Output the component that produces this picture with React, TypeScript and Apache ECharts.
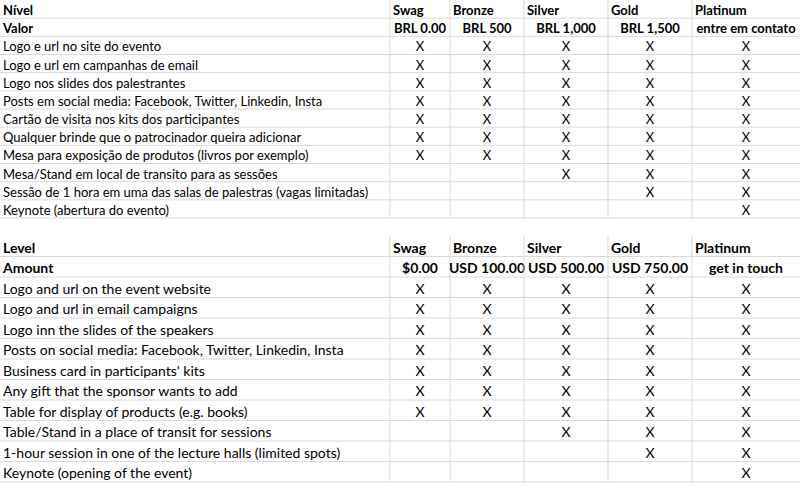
import { useEffect, useRef } from 'react'
import * as echarts from 'echarts'

const tiers = ['Swag', 'Bronze', 'Silver', 'Gold', 'Platinum']
const pricesPt = ['BRL 0.00', 'BRL 500', 'BRL 1,000', 'BRL 1,500', 'entre em contato']
const pricesEn = ['$0.00', 'USD 100.00', 'USD 500.00', 'USD 750.00', 'get in touch']

const benefitsPt = [
  'Logo e url no site do evento',
  'Logo e url em campanhas de email',
  'Logo nos slides dos palestrantes',
  'Posts em social media: Facebook, Twitter, Linkedin, Insta',
  'Cartão de visita nos kits dos participantes',
  'Qualquer brinde que o patrocinador queira adicionar',
  'Mesa para exposição de produtos (livros por exemplo)',
  'Mesa/Stand em local de transito para as sessões',
  'Sessão de 1 hora em uma das salas de palestras (vagas limitadas)',
  'Keynote (abertura do evento)',
]
const benefitsEn = [
  'Logo and url on the event website',
  'Logo and url in email campaigns',
  'Logo inn the slides of the speakers',
  'Posts on social media: Facebook, Twitter, Linkedin, Insta',
  'Business card in participants\' kits',
  'Any gift that the sponsor wants to add',
  'Table for display of products (e.g. books)',
  'Table/Stand in a place of transit for sessions',
  '1-hour session in one of the lecture halls (limited spots)',
  'Keynote (opening of the event)',
]
// lowest tier index that includes each benefit
const fromTier = [0, 0, 0, 0, 0, 0, 0, 2, 3, 4]

const colEdges = [0, 390, 450, 524, 608, 692, 800]

function buildCells(head: string, amount: string, prices: string[], benefits: string[]) {
  const cells: any[] = []
  for (let r = 0; r < 12; r++) {
    for (let c = 0; c < 6; c++) {
      let text = ''
      let bold = false
      let align = 'center'
      if (r === 0) {
        bold = true
        align = 'left'
        text = c === 0 ? head : tiers[c - 1]
      } else if (r === 1) {
        bold = true
        align = c === 0 ? 'left' : 'center'
        text = c === 0 ? amount : prices[c - 1]
      } else if (r - 2 < benefits.length) {
        const b = r - 2
        if (c === 0) {
          align = 'left'
          text = benefits[b]
        } else {
          text = c - 1 >= fromTier[b] ? 'X' : ''
        }
      }
      cells.push([c, r, text, bold ? 1 : 0, align])
    }
  }
  return cells
}

function makeRender(fontSize: number) {
  return (params: any, api: any) => {
    const c = api.value(0)
    const r = api.value(1)
    const text = api.value(2)
    const bold = api.value(3) === 1
    const align = api.value(4)
    const x0 = api.coord([colEdges[c], r])[0]
    const x1 = api.coord([colEdges[c + 1], r])[0]
    const cy = api.coord([0, r])[1]
    const h = api.size([0, 1])[1]
    const children: any[] = [
      { type: 'line', shape: { x1: x0, y1: cy + h / 2, x2: x1, y2: cy + h / 2 }, style: { stroke: '#dadada', lineWidth: 1 } },
    ]
    if (c > 0) {
      children.push({ type: 'line', shape: { x1: x0, y1: cy - h / 2, x2: x0, y2: cy + h / 2 }, style: { stroke: '#dadada', lineWidth: 1 } })
    }
    if (text) {
      children.push({
        type: 'text',
        style: {
          text,
          x: align === 'left' ? x0 + 3 : (x0 + x1) / 2,
          y: cy + 1,
          align,
          verticalAlign: 'middle',
          fill: '#000',
          font: `${bold ? 'bold ' : ''}${fontSize}px Lato`,
        },
      })
    }
    return { type: 'group', children }
  }
}

export default function App() {
  const ref = useRef<HTMLDivElement>(null)
  useEffect(() => {
    if (!ref.current) return
    const chart = echarts.init(ref.current, null, { renderer: 'svg' })
    const rowCats = Array.from({ length: 12 }, (_, i) => String(i))
    const yAxis = (gi: number) => ({ type: 'category', data: rowCats, inverse: true, show: false, gridIndex: gi })
    const xAxis = (gi: number) => ({ type: 'value', min: 0, max: 800, show: false, gridIndex: gi })
    chart.setOption({
      animation: false,
      backgroundColor: '#fff',
      grid: [
        { left: 0, top: 0, width: 800, height: 218 },
        { left: 0, top: 236, width: 800, height: 246 },
      ],
      xAxis: [xAxis(0), xAxis(1)],
      yAxis: [yAxis(0), yAxis(1)],
      series: [
        {
          type: 'custom',
          xAxisIndex: 0,
          yAxisIndex: 0,
          renderItem: makeRender(13),
          data: buildCells('Nível', 'Valor', pricesPt, benefitsPt),
        },
        {
          type: 'custom',
          xAxisIndex: 1,
          yAxisIndex: 1,
          renderItem: makeRender(14),
          data: buildCells('Level', 'Amount', pricesEn, benefitsEn),
        },
      ],
    })
    return () => chart.dispose()
  }, [])
  return <div ref={ref} style={{ position: 'fixed', left: 0, top: 0, width: 800, height: 489 }} />
}
